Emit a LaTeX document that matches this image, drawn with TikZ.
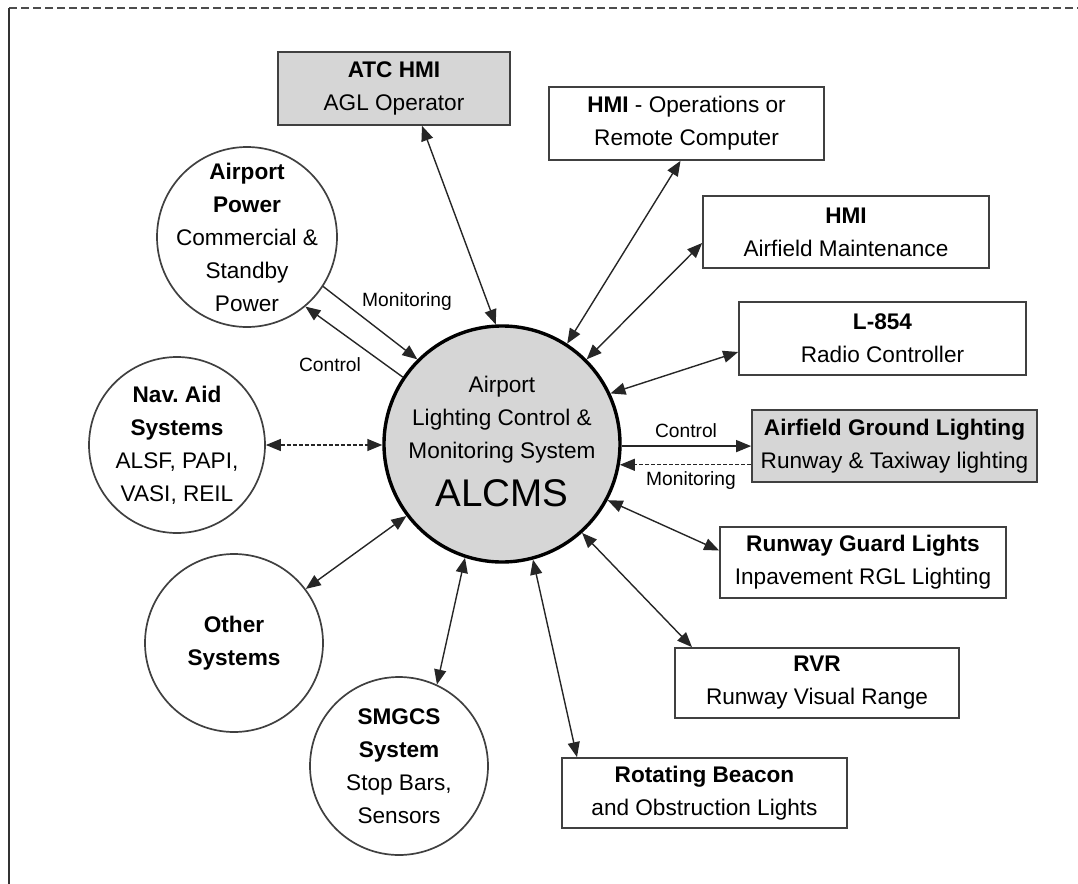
\documentclass[tikz,border=0pt]{standalone}
\usepackage{fontspec}
\setmainfont{Liberation Sans}
\usetikzlibrary{arrows.meta}
\begin{document}
\frenchspacing
\begin{tikzpicture}[x=0.5pt,y=-0.5pt,
  txt/.style={font=\fontsize{11.3}{16.5}\selectfont},
  box/.style={txt, draw=black!75, line width=0.85pt, rectangle, inner sep=0pt, align=center, fill=white},
  agray/.style={fill=black!16},
  circ/.style={draw=black!75, line width=0.85pt, circle, inner sep=0pt, fill=white},
  ctext/.style={txt, align=center, inner sep=0pt},
  both/.style={line width=0.7pt, draw=black!85, {Triangle[length=7.5pt,width=6pt]}-{Triangle[length=7.5pt,width=6pt]}},
  onew/.style={line width=0.7pt, draw=black!85, -{Triangle[length=7.5pt,width=6pt]}},
  dsh/.style={dash pattern=on 2pt off 1pt},
  lbl/.style={font=\fontsize{9.6}{11}\selectfont, inner sep=0pt}
]
\useasboundingbox (0,0) rectangle (1078,884);
% frame
\coordinate (ftl) at (9,8);
\coordinate (ftr) at (1078,8);
\coordinate (fbl) at (9,884);
\draw[black!70, line width=0.6pt, dash pattern=on 4pt off 2pt] (ftl) -- (ftr);
\draw[black!80, line width=1pt] (ftl) -- (fbl);

% central circle
\node[circ, agray, draw=black, line width=1.7pt, minimum size=118pt] (alcms) at (502,444) {};
\node[ctext] (alcmsA) at (502,420) {Airport\\Lighting Control \&\\Monitoring System};
\node[font=\fontsize{19.3}{22}\selectfont, inner sep=0pt] (alcmsB) at (502,493) {ALCMS};

% boxes
\node[box, agray, minimum width=116pt, minimum height=36.5pt] (atc) at (394,88.5) {\textbf{ATC HMI}\\AGL Operator};
\node[box, minimum width=137.5pt, minimum height=36.5pt] (ops) at (686.5,123.5) {\textbf{HMI} - Operations or\\Remote Computer};
\node[box, minimum width=143pt, minimum height=36pt] (maint) at (846,232) {\textbf{HMI}\\Airfield Maintenance};
\node[box, minimum width=143.5pt, minimum height=36.5pt] (l854) at (882.5,338.5) {\textbf{L-854}\\Radio Controller};
\node[box, agray, minimum width=142.5pt, minimum height=36pt] (agl) at (894.5,446) {\textbf{Airfield Ground Lighting}\\Runway \& Taxiway lighting};
\node[box, minimum width=143pt, minimum height=35.5pt] (rgl) at (863,562.5) {\textbf{Runway Guard Lights}\\Inpavement RGL Lighting};
\node[box, minimum width=142pt, minimum height=35pt] (rvr) at (817,683) {\textbf{RVR}\\Runway Visual Range};
\node[box, minimum width=142.5pt, minimum height=35pt] (beacon) at (704.5,793) {\textbf{Rotating Beacon}\\and Obstruction Lights};

% circles
\node[circ, minimum size=90pt] (power) at (247,237) {};
\node[ctext] (powerT) at (power.center) {\textbf{Airport}\\\textbf{Power}\\Commercial \&\\Standby\\Power};
\node[circ, minimum size=88pt] (nav) at (177,445) {};
\node[ctext] (navT) at (nav.center) {\textbf{Nav. Aid}\\\textbf{Systems}\\ALSF, PAPI,\\VASI, REIL};
\node[circ, minimum size=89pt] (other) at (234,643) {};
\node[ctext] (otherT) at (other.center) {\textbf{Other}\\\textbf{Systems}};
\node[circ, minimum size=89pt] (smgcs) at (399,766) {};
\node[ctext] (smgcsT) at (smgcs.center) {\textbf{SMGCS}\\\textbf{System}\\Stop Bars,\\Sensors};

% connectors
\draw[both] (alcms.93) -- ([xshift=14pt]atc.south);
\draw[both] (alcms.57) -- ([xshift=-3pt]ops.south);
\draw[both] (alcms.45) -- ([yshift=-5.5pt]maint.west);
\draw[both] (alcms.25) -- ([yshift=-6.75pt]l854.west);
\draw[onew] (alcms.-1.5) -- (alcms.-1.5 -| agl.west);
\draw[onew, dsh] (alcms.-10.2 -| agl.west) -- (alcms.-10.2);
\draw[both] (alcms.-28) -- ([yshift=6pt]rgl.west);
\draw[both] (alcms.-48) -- ([xshift=-62.5pt]rvr.north);
\draw[both] (alcms.-75.6) -- ([xshift=-63.75pt]beacon.north);
\draw[both] (alcms.-108) -- (smgcs.65);
\draw[both] (alcms.-143) -- (other.37);
\draw[both, dsh] (nav.east) -- (nav.east -| alcms.west);
\draw[onew] (power.-33) -- (alcms.135);
\draw[onew] (alcms.146.6) -- (power.-50.4);

% labels
\node[lbl] (lctl1) at (686,431) {Control};
\node[lbl] (lmon1) at (691,481) {Monitoring};
\node[lbl] (lmon2) at (407,302) {Monitoring};
\node[lbl] (lctl2) at (330,365) {Control};
\end{tikzpicture}
\end{document}
